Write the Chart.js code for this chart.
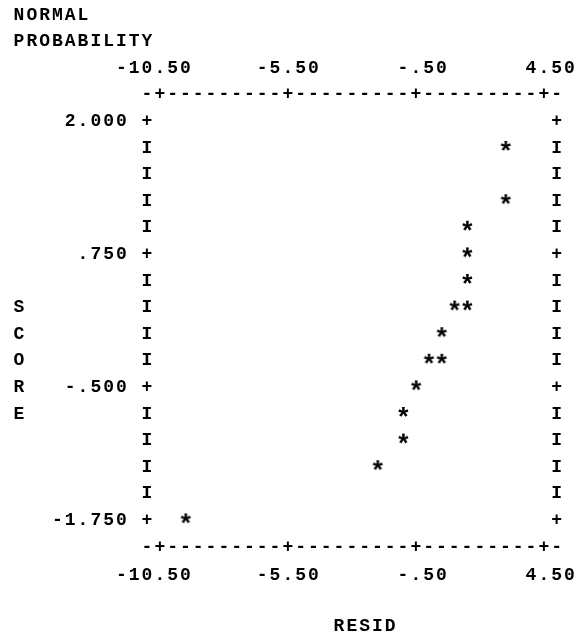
<!DOCTYPE html>
<html><head><meta charset="utf-8">
<script src="https://cdn.jsdelivr.net/npm/chart.js@4.4.1/dist/chart.umd.min.js"></script>
<style>html,body{margin:0;padding:0;background:#fff}</style>
</head><body>
<canvas id="c" width="577" height="640"></canvas>
<script>
// ---- data ----
const resid  = [-9.5, -2.0, -1.0, -1.0, -0.5, 0.0, 0.5, 0.5, 1.0, 1.5, 1.5, 1.5, 1.5, 3.0, 3.0];
const nscore = [-1.75, -1.25, -1.0, -0.75, -0.5, -0.25, -0.25, 0.0, 0.25, 0.25, 0.5, 0.75, 1.0, 1.25, 1.75];
const xTickValues = [-10.5, -5.5, -0.5, 4.5];
const xTickLabels = ['-10.50', '-5.50', '-.50', '4.50'];
const yTickValues = [2.0, 0.75, -0.5, -1.75];
const yTickLabels = ['2.000', '.750', '-.500', '-1.750'];
const yTitleLines = ['NORMAL', 'PROBABILITY'];
const yTitleVertical = 'SCORE';
const xTitle = 'RESID';

// ---- character-plot geometry ----
const X_MIN = -11, X_MAX = 5, X_STEP = 0.5;   // one character column
const Y_MIN = -2.0, Y_MAX = 2.25, Y_STEP = 0.25; // one text line
const FRAME_COL = 10, FRAME_ROW = 3;
const FONT_SIZE = 18, SPACING = 2;
const FAMILY = "'Liberation Mono', 'Courier New', monospace";
const FONT = "bold " + FONT_SIZE + "px " + FAMILY;

function makeStar() {
  const cv = document.createElement('canvas');
  cv.width = 16; cv.height = 30;
  const g = cv.getContext('2d');
  g.font = "bold 100px " + FAMILY;
  let m = g.measureText('*');
  const size = 100 * 10.5 / (m.actualBoundingBoxLeft + m.actualBoundingBoxRight);
  g.font = "bold " + size + "px " + FAMILY;
  m = g.measureText('*');
  g.fillStyle = '#000';
  g.textAlign = 'left'; g.textBaseline = 'alphabetic';
  const inkW = m.actualBoundingBoxLeft + m.actualBoundingBoxRight;
  const inkH = m.actualBoundingBoxAscent + m.actualBoundingBoxDescent;
  const x = cv.width / 2 - inkW / 2 + m.actualBoundingBoxLeft;
  const y = cv.height / 2 - 2 - inkH / 2 + m.actualBoundingBoxAscent;
  g.fillText('*', x, y);
  return cv;
}

const isTick = (arr, v) => arr.some(t => Math.abs(t - v) < 1e-9);

const asciiFrame = {
  id: 'asciiFrame',
  beforeDraw(chart) { chart.ctx.letterSpacing = SPACING + 'px'; },
  afterDraw(chart) {
    const xs = chart.scales.x, ys = chart.scales.y, ctx = chart.ctx;
    const colX = c => xs.getPixelForValue(X_MIN + (c - FRAME_COL) * X_STEP);
    const rowY = r => ys.getPixelForValue(Y_MAX - (r - FRAME_ROW) * Y_STEP);
    const put = (ch, c, r) => ctx.fillText(ch, colX(c), rowY(r));
    const putStr = (s, c, r) => { for (let i = 0; i < s.length; i++) put(s[i], c + i, r); };
    ctx.save();
    ctx.letterSpacing = '0px';
    ctx.font = FONT; ctx.fillStyle = '#000';
    ctx.textAlign = 'center'; ctx.textBaseline = 'middle';
    const nCols = Math.round((X_MAX - X_MIN) / X_STEP);
    const nRows = Math.round((Y_MAX - Y_MIN) / Y_STEP);
    for (let i = 0; i <= nCols; i++) {
      const ch = isTick(xTickValues, X_MIN + i * X_STEP) ? '+' : '-';
      put(ch, FRAME_COL + i, FRAME_ROW);
      put(ch, FRAME_COL + i, FRAME_ROW + nRows);
    }
    for (let j = 1; j < nRows; j++) {
      const ch = isTick(yTickValues, Y_MAX - j * Y_STEP) ? '+' : 'I';
      put(ch, FRAME_COL, FRAME_ROW + j);
      put(ch, FRAME_COL + nCols, FRAME_ROW + j);
    }
    yTitleLines.forEach((s, i) => putStr(s, 0, i));
    for (let i = 0; i < yTitleVertical.length; i++) put(yTitleVertical[i], 0, 11 + i);
    putStr(xTitle, 25, 23);
    ctx.restore();
  }
};

const tickFont = { family: FAMILY, size: FONT_SIZE, weight: 'bold' };
function xAxis(pos, h, pad) {
  return {
    type: 'linear', position: pos, min: X_MIN, max: X_MAX,
    grid: { display: false, drawTicks: false }, border: { display: false },
    afterBuildTicks: s => { s.ticks = xTickValues.map(v => ({ value: v })); },
    afterFit: s => { s.height = h; s.paddingLeft = 0; s.paddingRight = 0; },
    ticks: {
      autoSkip: false, maxRotation: 0, minRotation: 0, align: 'end', labelOffset: 33,
      padding: pad, color: '#000', font: tickFont,
      callback: (v, i) => xTickLabels[i]
    }
  };
}

new Chart(document.getElementById('c'), {
  type: 'scatter',
  data: { datasets: [{
    data: resid.map((x, i) => ({ x, y: nscore[i] })),
    pointStyle: makeStar(), showLine: false
  }]},
  options: {
    responsive: false, animation: false, events: [],
    layout: { padding: { left: 0, right: 20.4, top: 0, bottom: 0 } },
    plugins: { legend: { display: false }, tooltip: { enabled: false } },
    scales: {
      x: xAxis('bottom', 93, 17.6),
      x2: xAxis('top', 94.8, 15.8),
      y: {
        type: 'linear', position: 'left', min: Y_MIN, max: Y_MAX,
        grid: { display: false, drawTicks: false }, border: { display: false },
        afterBuildTicks: s => { s.ticks = yTickValues.map(v => ({ value: v })); },
        afterFit: s => { s.width = 147; s.paddingTop = 0; s.paddingBottom = 0; },
        ticks: { autoSkip: false, padding: 18.2, color: '#000', font: tickFont,
          callback: (v, i) => yTickLabels[i] }
      }
    }
  },
  plugins: [asciiFrame]
});
</script>
</body></html>
